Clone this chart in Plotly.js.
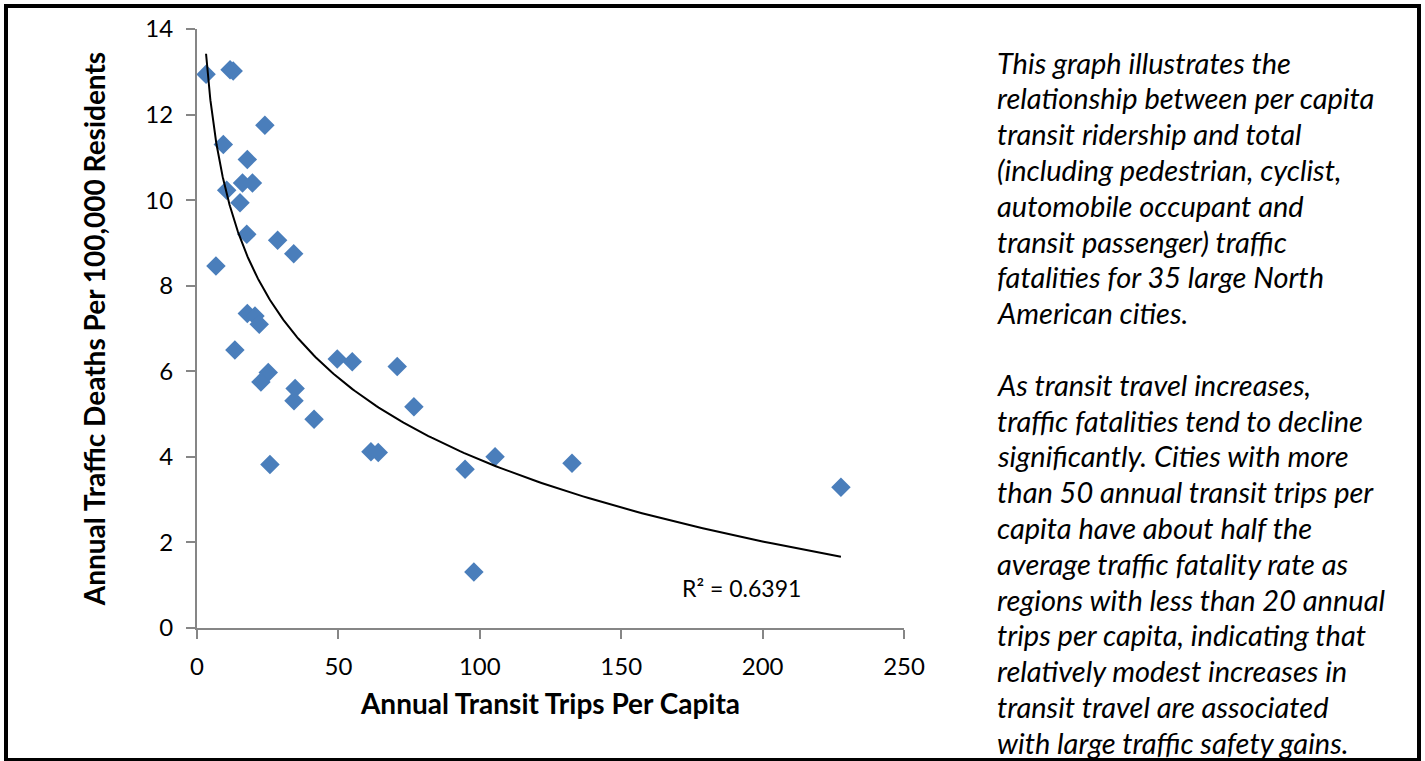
<!DOCTYPE html>
<html>
<head>
<meta charset="utf-8">
<script src="https://cdn.plot.ly/plotly-3.0.1.min.js"></script>
<style>
  html, body { margin: 0; padding: 0; background: #fff; }
  #chart { width: 1425px; height: 761px; }
</style>
</head>
<body>
<div id="chart"></div>
<script>
// ---- Data ----
const transitTripsPerCapita = [3.2, 11.7, 12.8, 24.0, 9.3, 17.8, 16.1, 19.6, 10.5, 15.2,
  17.6, 28.5, 34.2, 6.7, 17.8, 20.5, 22.0, 13.4, 49.6, 54.9,
  70.8, 25.2, 22.6, 34.7, 34.3, 76.7, 41.4, 61.5, 64.1, 25.8,
  94.8, 105.4, 132.6, 97.9, 227.7];
const trafficDeathsPer100k = [12.94, 13.05, 13.02, 11.75, 11.30, 10.95, 10.40, 10.40, 10.23, 9.94,
  9.20, 9.06, 8.75, 8.46, 7.35, 7.29, 7.10, 6.50, 6.29, 6.22,
  6.11, 5.97, 5.75, 5.60, 5.31, 5.17, 4.88, 4.12, 4.10, 3.82,
  3.71, 4.00, 3.85, 1.31, 3.29];
const xTickValues = [0, 50, 100, 150, 200, 250];
const yTickValues = [0, 2, 4, 6, 8, 10, 12, 14];
const xAxisTitle = "Annual Transit Trips Per Capita";
const yAxisTitle = "Annual Traffic Deaths Per 100,000 Residents";
const rSquaredLabel = "R² = 0.6391";
const noteLines = [
  "This graph illustrates the",
  "relationship between per capita",
  "transit ridership and total",
  "(including pedestrian, cyclist,",
  "automobile occupant and",
  "transit passenger) traffic",
  "fatalities for 35 large North",
  "American cities.",
  "",
  "As transit travel increases,",
  "traffic fatalities tend to decline",
  "significantly. Cities with more",
  "than 50 annual transit trips per",
  "capita have about half the",
  "average traffic fatality rate as",
  "regions with less than 20 annual",
  "trips per capita, indicating that",
  "relatively modest increases in",
  "transit travel are associated",
  "with large traffic safety gains."
];

// ---- Logarithmic trendline (least squares fit y = a ln x + b, like Excel) ----
const lx = transitTripsPerCapita.map(v => Math.log(v));
const n = lx.length;
const mx = lx.reduce((s, v) => s + v, 0) / n;
const my = trafficDeathsPer100k.reduce((s, v) => s + v, 0) / n;
let sxy = 0, sxx = 0;
for (let i = 0; i < n; i++) { sxy += (lx[i] - mx) * (trafficDeathsPer100k[i] - my); sxx += (lx[i] - mx) ** 2; }
const slope = sxy / sxx, intercept = my - slope * mx;
const xmin = Math.min(...transitTripsPerCapita), xmax = Math.max(...transitTripsPerCapita);
const trendX = [], trendY = [];
for (let k = 0; k <= 300; k++) {
  const xv = Math.exp(Math.log(xmin) + (Math.log(xmax) - Math.log(xmin)) * k / 300);
  trendX.push(xv); trendY.push(slope * Math.log(xv) + intercept);
}

// ---- Layout helpers (pixel -> paper) ----
const W = 1425, H = 761;
const L = 197, R = 904, T = 29, B = 628;
const px = v => (v - L) / (R - L);
const py = v => (B - v) / (B - T);

const shapes = [
  [4, 4, 1421, 8],      // top border
  [4, 4, 8, 761],       // left border
  [1417, 4, 1421, 761], // right border
  [4, 758, 1421, 761]   // bottom border
].map(([x0, y0, x1, y1]) => ({
  type: 'rect', xref: 'paper', yref: 'paper',
  x0: px(x0), x1: px(x1), y0: py(y0), y1: py(y1),
  fillcolor: '#000', line: { width: 0 }
}));

const annotations = noteLines.map((t, i) => ({
  text: t, xref: 'paper', yref: 'paper',
  x: px(995), y: py(62 + 35.8 * i), xanchor: 'left', yanchor: 'middle',
  showarrow: false, font: { family: 'Lato', style: 'italic', size: 29, color: '#000' }
})).filter(a => a.text !== "");

annotations.push({
  text: rSquaredLabel, xref: 'paper', yref: 'paper',
  x: px(741), y: py(588), xanchor: 'center', yanchor: 'middle',
  showarrow: false, font: { family: 'Lato', size: 23, color: '#000' }
});

const traces = [
  {
    x: transitTripsPerCapita, y: trafficDeathsPer100k,
    type: 'scatter', mode: 'markers',
    marker: { symbol: 'diamond', size: 15, color: '#4a7ebb' },
    hoverinfo: 'x+y', showlegend: false
  },
  {
    x: trendX, y: trendY, type: 'scatter', mode: 'lines',
    line: { color: '#000', width: 2 }, hoverinfo: 'skip', showlegend: false
  }
];

const axisCommon = {
  showgrid: false, zeroline: false, showline: true,
  linecolor: '#868686', linewidth: 2,
  ticks: 'outside', ticklen: 9, tickwidth: 2, tickcolor: '#868686',
  tickfont: { family: 'Lato', size: 24, color: '#000' },
  fixedrange: true
};

const layout = {
  width: W, height: H,
  margin: { l: L, r: W - R, t: T, b: H - B, pad: 0 },
  paper_bgcolor: '#fff', plot_bgcolor: '#fff',
  xaxis: Object.assign({}, axisCommon, {
    range: [0, 250], tickvals: xTickValues, ticklabelstandoff: 7,
    title: { text: xAxisTitle, font: { family: 'Lato', weight: 'bold', size: 28, color: '#000' }, standoff: 16 }
  }),
  yaxis: Object.assign({}, axisCommon, {
    range: [0, 14], tickvals: yTickValues, ticklabelstandoff: 8,
    title: { text: yAxisTitle, font: { family: 'Lato', weight: 'bold', size: 28, color: '#000' }, standoff: 32 }
  }),
  shapes: shapes,
  annotations: annotations,
  showlegend: false
};

Plotly.newPlot('chart', traces, layout, { displayModeBar: false, staticPlot: false });
</script>
</body>
</html>
